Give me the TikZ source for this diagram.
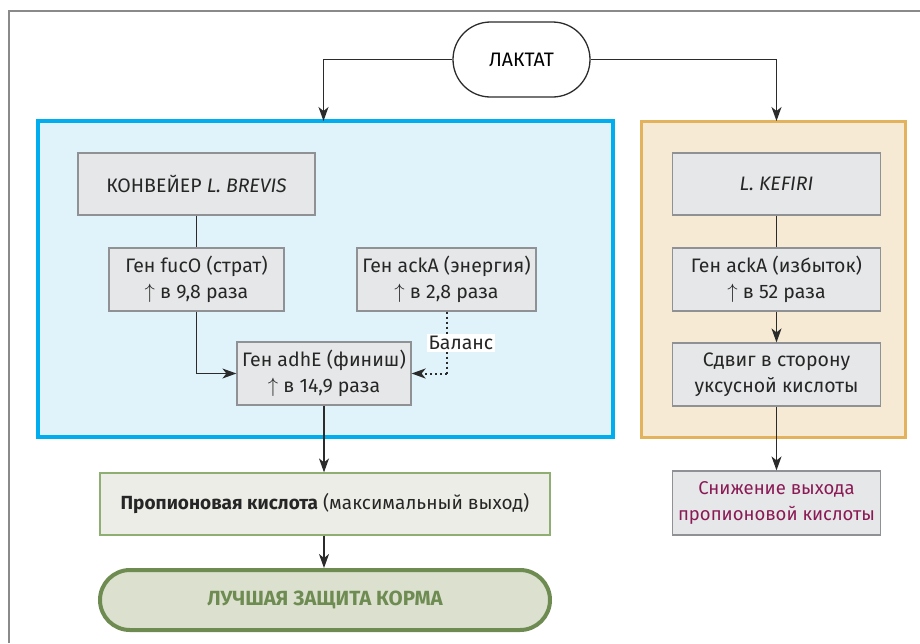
\documentclass[tikz,border=0pt]{standalone}
\usepackage{fontspec}
\setmainfont{Fira Sans}
\usetikzlibrary{shapes.misc,arrows.meta}
\definecolor{frameg}{HTML}{8A8A8A}
\definecolor{bluebd}{HTML}{00AEEF}
\definecolor{bluefill}{HTML}{E0F2FA}
\definecolor{orbd}{HTML}{E2B25C}
\definecolor{orfill}{HTML}{F6EAD5}
\definecolor{boxfill}{HTML}{E6E7E8}
\definecolor{boxbd}{HTML}{8F9194}
\definecolor{grfill}{HTML}{ECEDE6}
\definecolor{grbd}{HTML}{8FAF72}
\definecolor{pillfill}{HTML}{DCE0CF}
\definecolor{pillbd}{HTML}{6E8C52}
\definecolor{maroon}{HTML}{8A1A55}
\definecolor{linec}{HTML}{2B2B2B}
\tikzset{
  gbox/.style={draw=boxbd, fill=boxfill, line width=1.2pt, align=center,
    inner sep=0pt, font=\fontsize{19.5}{25.5}\selectfont, text=black!85},
  conn/.style={draw=linec, line width=1.3pt},
  arr/.style={conn, -{Stealth[length=14pt,width=10pt,inset=4pt]}},
  dotline/.style={draw=linec, line width=2pt, dash pattern=on 2pt off 3pt},
}
\begin{document}
\begin{tikzpicture}[x=1pt,y=-1pt]
\useasboundingbox (0,0) rectangle (920,643);
% frame
\draw[frameg, line width=2pt] (920,10.5) -- (8.5,10.5) -- (8.5,643);
% group boxes
\draw[bluebd, fill=bluefill, line width=4pt] (38,121) rectangle (613,437);
\draw[orbd, fill=orfill, line width=3pt] (641,121) rectangle (905,437);
% top pill
\node[rounded rectangle, draw=linec, fill=white, line width=1.3pt, minimum width=137pt, minimum height=75pt, inner sep=0pt, font=\fontsize{19.5}{22}\selectfont] (lac) at (521.5,59.5) {ЛАКТАТ};
\coordinate (lb) at (323.5,121);
\coordinate (rb) at (776.5,121);
\draw[arr] (lac.west) -| (lb);
\draw[arr] (lac.east) -| (rb);
% left group
\node[gbox, minimum width=237pt, minimum height=62pt] (conv) at (196.5,184) {КОНВЕЙЕР \textit{L. BREVIS}};
\node[gbox, minimum width=175pt, minimum height=63pt] (fuc) at (196.5,279.5) {Ген fucO (страт)\\$\uparrow$ в 9,8 раза};
\node[gbox, minimum width=179pt, minimum height=63pt] (ack) at (446.5,279.5) {Ген ackA (энергия)\\$\uparrow$ в 2,8 раза};
\node[gbox, minimum width=174pt, minimum height=63pt] (adh) at (324,373.5) {Ген adhE (финиш)\\$\uparrow$ в 14,9 раза};
\draw[conn] (conv) -- (fuc);
\draw[arr] (fuc.south) |- (adh.west);
\coordinate (bal) at (446.5,373.5);
\draw[dotline] (ack.south) -- (bal);
\draw[dotline, -{Stealth[length=14pt,width=10pt,inset=4pt]}] (bal) -- (adh.east);
\node[fill=white, inner sep=2pt, font=\fontsize{19.5}{22}\selectfont, text=black!85] (baltxt) at (461,343) {Баланс};
% right group
\node[gbox, minimum width=208pt, minimum height=62pt] (kef) at (776.5,184) {\textit{L. KEFIRI}};
\node[gbox, minimum width=208pt, minimum height=63pt] (ack2) at (776.5,279.5) {Ген ackA (избыток)\\$\uparrow$ в 52 раза};
\node[gbox, minimum width=208pt, minimum height=63pt] (shift) at (776.5,374.5) {Сдвиг в сторону\\уксусной кислоты};
\node[gbox, minimum width=208pt, minimum height=64pt, text=maroon, font=\fontsize{18.5}{25.5}\selectfont] (low) at (776.5,503) {Снижение выхода\\пропионовой кислоты};
\draw[conn] (kef) -- (ack2);
\draw[arr] (ack2) -- (shift);
\draw[arr] (shift) -- (low);
% bottom
\node[draw=grbd, fill=grfill, line width=1.2pt, minimum width=450pt, minimum height=62pt, inner sep=0pt, font=\fontsize{19}{25}\selectfont, text=black!85] (prop) at (325,504) {\textbf{Пропионовая кислота} (максимальный выход)};
\node[rounded rectangle, draw=pillbd, fill=pillfill, line width=4pt, minimum width=450pt, minimum height=60pt, inner sep=0pt, font=\fontsize{20.5}{22}\selectfont\bfseries, text=pillbd] (best) at (325,600) {ЛУЧШАЯ ЗАЩИТА КОРМА};
\draw[arr] (adh) -- (adh |- prop.north);
\draw[arr] (prop.south -| adh) -- (adh |- best.north);
\end{tikzpicture}
\end{document}
